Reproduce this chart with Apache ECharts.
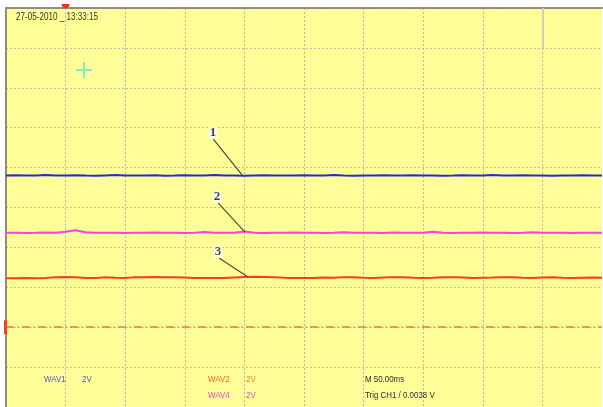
<!DOCTYPE html>
<html>
<head>
<meta charset="utf-8">
<script src="https://cdn.jsdelivr.net/npm/echarts@6/dist/echarts.min.js"></script>
<style>
  html, body { margin: 0; padding: 0; background: #ffffff; }
  #scope { width: 603px; height: 407px; }
</style>
</head>
<body>
<div id="scope"></div>
<script>
// Screen capture of a 3-trace scope acquisition: 50 ms/div, 2 V/div.
const TIME_SPAN_MS = 500;          // 10 divisions x 50 ms
const VOLT_RANGE = [-10, 10];      // 10 divisions x 2 V

// Acquired traces (volts), evenly sampled across the screen.
const wav1 = [1.60,1.62,1.61,1.60,1.63,1.60,1.61,1.62,1.60,1.59,1.61,1.63,1.60,1.61,1.60,1.62,1.59,1.60,1.62,1.61,
              1.60,1.63,1.61,1.60,1.59,1.61,1.62,1.60,1.61,1.60,1.62,1.60,1.61,1.63,1.60,1.59,1.61,1.60,1.62,1.61,
              1.60,1.62,1.60,1.61,1.59,1.60,1.62,1.61,1.60,1.63,1.61,1.60,1.62,1.60,1.61,1.59,1.61,1.60,1.62,1.60,1.61];
const wav4 = [-1.27,-1.26,-1.28,-1.27,-1.25,-1.27,-1.22,-1.14,-1.24,-1.27,-1.26,-1.27,-1.28,-1.26,-1.27,-1.25,-1.27,-1.26,-1.28,-1.27,
              -1.23,-1.27,-1.26,-1.27,-1.20,-1.27,-1.28,-1.26,-1.27,-1.25,-1.27,-1.26,-1.28,-1.27,-1.24,-1.27,-1.26,-1.27,-1.28,-1.25,
              -1.27,-1.26,-1.27,-1.22,-1.27,-1.28,-1.26,-1.27,-1.25,-1.27,-1.26,-1.28,-1.27,-1.24,-1.27,-1.26,-1.27,-1.28,-1.26,-1.27,-1.27];
const wav2 = [-3.55,-3.55,-3.54,-3.55,-3.53,-3.49,-3.48,-3.50,-3.53,-3.54,-3.50,-3.52,-3.53,-3.49,-3.49,-3.48,-3.49,-3.50,-3.51,-3.53,
              -3.54,-3.53,-3.54,-3.51,-3.48,-3.47,-3.48,-3.49,-3.52,-3.53,-3.54,-3.53,-3.51,-3.52,-3.49,-3.50,-3.52,-3.53,-3.51,-3.49,
              -3.50,-3.52,-3.53,-3.52,-3.50,-3.49,-3.51,-3.53,-3.52,-3.51,-3.49,-3.50,-3.52,-3.53,-3.51,-3.50,-3.52,-3.53,-3.52,-3.51,-3.52];

// Trigger settings
const TRIGGER_TIME_MS = 50;
const TRIGGER_LEVEL_V = -6;
const CURSOR_AT = [65.4, 6.89];     // screen cursor (ms, V)
const MARKER_TIME_MS = 450;

// Numbered callouts: label anchor and the trace point it refers to (ms, V)
const CALLOUT_TEXT  = ['1', '2', '3'];
const CALLOUT_LABEL = [[173.7, 3.73], [177.0, 0.53], [177.9, -2.23]];
const CALLOUT_FROM  = [[173.9, 3.43], [177.9, 0.23], [178.7, -2.53]];
const CALLOUT_TO    = [[198.0, 1.63], [200.5, -1.23], [203.0, -3.48]];

// On-screen readouts
const TIMESTAMP = '27-05-2010 _ 13:33:15';
const CHANNELS = [
  { name: 'WAV1', scale: '2V', color: '#5656c4', scaleColor: '#5656c4', col: 0, row: 0 },
  { name: 'WAV2', scale: '2V', color: '#f26c34', scaleColor: '#f08a2a', col: 1, row: 0 },
  { name: 'WAV4', scale: '2V', color: '#e446dc', scaleColor: '#e446dc', col: 1, row: 1 }
];
const TIMEBASE_TEXT = 'M 50.00ms';
const TRIGGER_TEXT = 'Trig CH1 / 0.0038 V';

const toPairs = (arr) => arr.map((v, i) => [i * TIME_SPAN_MS / (arr.length - 1), v]);

const SANS = '"Liberation Sans", Arial, sans-serif';
const GRID_LINE = { color: '#b9b9a4', width: 1, type: [2, 2] };
const FRAME = { color: '#8e8e7a', width: 2 };

const chart = echarts.init(document.getElementById('scope'), null, { renderer: 'canvas' });

const traceSeries = (name, data, color) => ({
  name, type: 'line', data: toPairs(data), showSymbol: false, symbol: 'none',
  lineStyle: { color, width: 2 }, silent: true, z: 3
});

chart.setOption({
  animation: false,
  backgroundColor: '#ffffff',
  grid: { left: 6, top: 8, width: 596, height: 399, show: true, backgroundColor: '#fefd98', borderWidth: 0, borderColor: 'transparent' },
  xAxis: {
    type: 'value', min: 0, max: TIME_SPAN_MS, interval: 50, position: 'top',
    axisLine: { show: true, onZero: false, lineStyle: FRAME },
    axisTick: { show: false }, axisLabel: { show: false },
    splitLine: { show: true, showMinLine: false, showMaxLine: false, lineStyle: GRID_LINE }
  },
  yAxis: {
    type: 'value', min: VOLT_RANGE[0], max: VOLT_RANGE[1], interval: 2,
    axisLine: { show: true, onZero: false, lineStyle: FRAME },
    axisTick: { show: false }, axisLabel: { show: false },
    splitLine: { show: true, showMinLine: false, showMaxLine: false, lineStyle: GRID_LINE }
  },
  series: [
    // trigger level and screen marker, drawn under the traces
    {
      type: 'line', data: [], silent: true, z: 2,
      markLine: {
        silent: true, symbol: 'none', label: { show: false }, animation: false,
        data: [
          { yAxis: TRIGGER_LEVEL_V, lineStyle: { color: '#b4bc94', width: 1.5, type: [2, 14], dashOffset: -11 } },
          { yAxis: TRIGGER_LEVEL_V, lineStyle: { color: '#f27a3a', width: 1.5, type: [8, 8] } },
          [
            { coord: [MARKER_TIME_MS, VOLT_RANGE[1]], lineStyle: { color: '#cfcfbc', width: 2, type: 'solid' } },
            { coord: [MARKER_TIME_MS, VOLT_RANGE[1] - 2] }
          ]
        ]
      }
    },
    traceSeries('WAV1', wav1, '#1e2ed2'),
    traceSeries('WAV4', wav4, '#ff3ce8'),
    traceSeries('WAV2', wav2, '#ff3c12'),
    // leader lines for the numbered callouts
    {
      type: 'line', data: [], silent: true, z: 4,
      markLine: {
        silent: true, symbol: 'none', label: { show: false }, animation: false,
        lineStyle: { color: '#4c4c38', width: 1.2, type: 'solid' },
        data: CALLOUT_FROM.map((p, i) => [{ coord: p }, { coord: CALLOUT_TO[i] }])
      }
    },
    // callout numbers
    {
      type: 'scatter', silent: true, z: 5, symbolSize: 0,
      data: CALLOUT_LABEL.map((p, i) => [p[0], p[1], CALLOUT_TEXT[i]]),
      label: {
        show: true, position: 'inside', formatter: (p) => p.value[2],
        fontFamily: '"Liberation Serif", "DejaVu Serif", serif', fontWeight: 'bold', fontSize: 13,
        color: '#111111', backgroundColor: '#ffffff', padding: [0, 1, -1, 1], lineHeight: 13
      }
    },
    // screen cursor
    {
      type: 'scatter', silent: true, z: 5,
      data: [CURSOR_AT],
      symbol: 'path://M7,0H9V7H16V9H9V16H7V9H0V7H7Z', symbolSize: 16,
      itemStyle: { color: '#6ce6c6' }
    }
  ]
});

// Readouts and trigger markers, placed through the axis scales.
const trigX = chart.convertToPixel({ xAxisIndex: 0 }, TRIGGER_TIME_MS);
const levelY = chart.convertToPixel({ yAxisIndex: 0 }, TRIGGER_LEVEL_V);
const COL_X = [44, 208];
const ROW_Y = [380, 396];

const graphics = [
  {
    type: 'text', x: 16, y: 17, scaleX: 0.81, z: 10, silent: true,
    style: { text: TIMESTAMP, font: '10px ' + SANS, fill: '#353535', verticalAlign: 'middle' }
  },
  {
    type: 'sector', z: 10, silent: true,
    shape: { cx: trigX, cy: 4, r: 4, startAngle: 0, endAngle: Math.PI, clockwise: true },
    style: { fill: '#ff2a14' }
  },
  {
    type: 'rect', z: 10, silent: true,
    shape: { x: 4, y: levelY - 7, width: 3, height: 14 },
    style: { fill: '#ff3a22' }
  },
  {
    type: 'text', z: 10, silent: true, x: 365, y: ROW_Y[0], scaleX: 0.88,
    style: { text: TIMEBASE_TEXT, font: '9px ' + SANS, fill: '#2e2e2e', verticalAlign: 'middle' }
  },
  {
    type: 'text', z: 10, silent: true, x: 365, y: ROW_Y[1], scaleX: 0.88,
    style: { text: TRIGGER_TEXT, font: '9px ' + SANS, fill: '#2e2e2e', verticalAlign: 'middle' }
  }
];
CHANNELS.forEach((c) => {
  graphics.push({
    type: 'text', z: 10, silent: true, x: COL_X[c.col], y: ROW_Y[c.row], scaleX: 0.88,
    style: { text: c.name, font: '9px ' + SANS, fill: c.color, verticalAlign: 'middle' }
  });
  graphics.push({
    type: 'text', z: 10, silent: true, x: COL_X[c.col] + 38, y: ROW_Y[c.row], scaleX: 0.88,
    style: { text: c.scale, font: '9px ' + SANS, fill: c.scaleColor, verticalAlign: 'middle' }
  });
});
chart.setOption({ graphic: graphics });
</script>
</body>
</html>
